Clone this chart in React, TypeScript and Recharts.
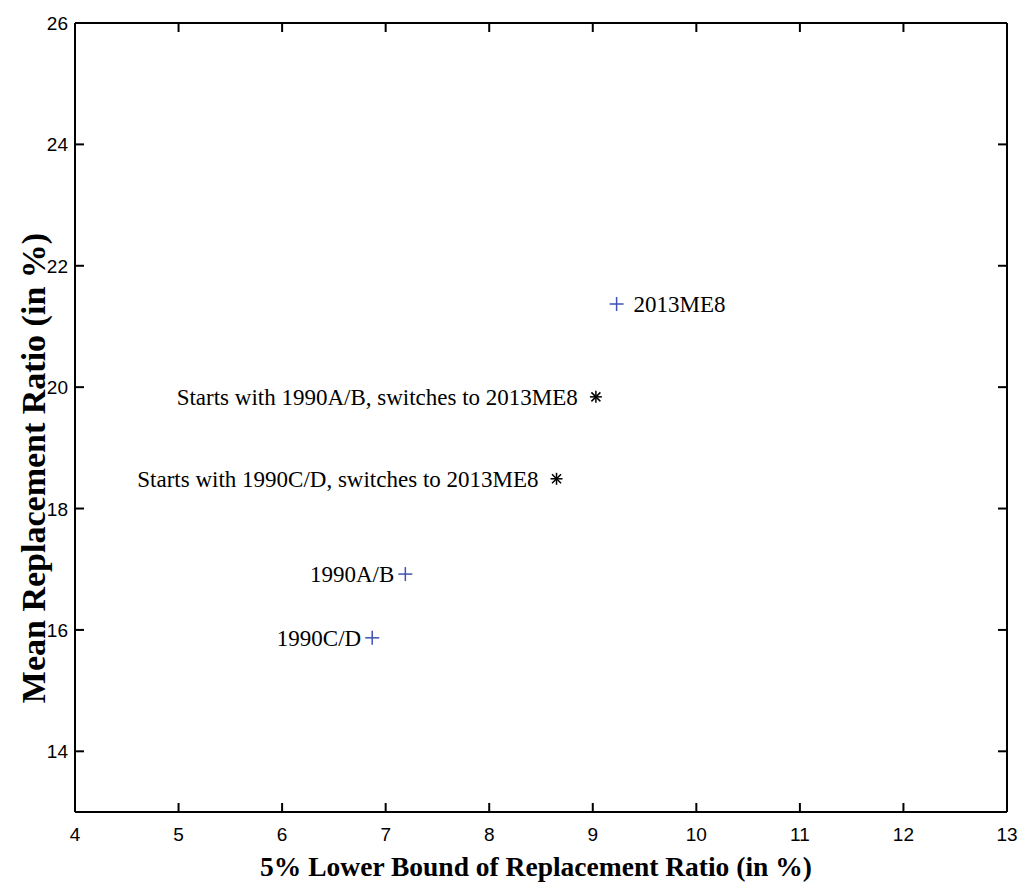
import React from "react";
import { ScatterChart, Scatter, XAxis, YAxis } from "recharts";

const xTicks = [4, 5, 6, 7, 8, 9, 10, 11, 12, 13];
const yTicks = [14, 16, 18, 20, 22, 24, 26];
const xDomain = [4, 13];
const yDomain = [13, 26];

const plusNames = ["2013ME8", "1990A/B", "1990C/D"];
const plusX = [9.23, 7.19, 6.87];
const plusY = [21.37, 16.92, 15.87];

const starNames = [
  "Starts with 1990A/B, switches to 2013ME8",
  "Starts with 1990C/D, switches to 2013ME8",
];
const starX = [9.03, 8.65];
const starY = [19.84, 18.49];

const xLabel = "5% Lower Bound of Replacement Ratio (in %)";
const yLabel = "Mean Replacement Ratio (in %)";

const rightLabeled = ["2013ME8"];

const plusData = plusNames.map((name, i) => ({ name, x: plusX[i], y: plusY[i] }));
const starData = starNames.map((name, i) => ({ name, x: starX[i], y: starY[i] }));

const SERIF = "'Liberation Serif', 'Times New Roman', serif";
const SANS = "'Liberation Sans', Arial, Helvetica, sans-serif";
const BLUE = "#3f51b5";
const TICK_LINE = { stroke: "#000", strokeWidth: 2 };
const AXIS_LINE = { stroke: "#000", strokeWidth: 2 };

const BottomTick = (props: any) => {
  const { x, y, payload } = props;
  return (
    <text x={x} y={y + 29} textAnchor="middle" fontFamily={SANS} fontSize={19} fill="#000">
      {payload.value}
    </text>
  );
};

const LeftTick = (props: any) => {
  const { x, y, payload } = props;
  return (
    <text x={x - 7} y={y + 7} textAnchor="end" fontFamily={SANS} fontSize={19} fill="#000">
      {payload.value}
    </text>
  );
};

const NoLabel = () => <g />;
const EmptyShape = () => <g />;

const PlusShape = (props: any) => {
  const { cx, cy, payload } = props;
  const right = rightLabeled.includes(payload.name);
  const s = 7;
  return (
    <g>
      <line x1={cx - s} y1={cy} x2={cx + s} y2={cy} stroke={BLUE} strokeWidth={1.5} />
      <line x1={cx} y1={cy - s} x2={cx} y2={cy + s} stroke={BLUE} strokeWidth={1.5} />
      <text
        x={right ? cx + 17 : cx - 11}
        y={cy + 8}
        textAnchor={right ? "start" : "end"}
        fontFamily={SERIF}
        fontSize={23}
        fill="#000"
      >
        {payload.name}
      </text>
    </g>
  );
};

const StarShape = (props: any) => {
  const { cx, cy, payload } = props;
  const s = 6;
  const d = 4.5;
  return (
    <g>
      <line x1={cx - s} y1={cy} x2={cx + s} y2={cy} stroke="#000" strokeWidth={1.5} />
      <line x1={cx} y1={cy - s} x2={cx} y2={cy + s} stroke="#000" strokeWidth={1.5} />
      <line x1={cx - d} y1={cy - d} x2={cx + d} y2={cy + d} stroke="#000" strokeWidth={1.5} />
      <line x1={cx - d} y1={cy + d} x2={cx + d} y2={cy - d} stroke="#000" strokeWidth={1.5} />
      <text x={cx - 18} y={cy + 8} textAnchor="end" fontFamily={SERIF} fontSize={23} fill="#000">
        {payload.name}
      </text>
    </g>
  );
};

export default function App() {
  return (
    <div style={{ position: "absolute", left: 0, top: 0, width: 1024, height: 882, background: "#fff" }}>
      <ScatterChart
        width={1024}
        height={882}
        margin={{ top: 22, right: 16, bottom: 30, left: 15 }}
      >
        <XAxis
          xAxisId="bottom"
          dataKey="x"
          type="number"
          domain={xDomain}
          ticks={xTicks}
          orientation="bottom"
          height={40}
          tickSize={-9}
          tickMargin={9}
          tickLine={TICK_LINE}
          axisLine={AXIS_LINE}
          tick={<BottomTick />}
          interval={0}
          allowDataOverflow
        />
        <XAxis
          xAxisId="top"
          dataKey="x"
          type="number"
          domain={xDomain}
          ticks={xTicks}
          orientation="top"
          height={1}
          tickSize={-9}
          tickMargin={0}
          tickLine={TICK_LINE}
          axisLine={AXIS_LINE}
          tick={<NoLabel />}
          interval={0}
          allowDataOverflow
        />
        <YAxis
          yAxisId="left"
          dataKey="y"
          type="number"
          domain={yDomain}
          ticks={yTicks}
          orientation="left"
          width={60}
          tickSize={-9}
          tickMargin={9}
          tickLine={TICK_LINE}
          axisLine={AXIS_LINE}
          tick={<LeftTick />}
          interval={0}
          allowDataOverflow
        />
        <YAxis
          yAxisId="right"
          dataKey="y"
          type="number"
          domain={yDomain}
          ticks={yTicks}
          orientation="right"
          width={1}
          tickSize={-9}
          tickMargin={0}
          tickLine={TICK_LINE}
          axisLine={AXIS_LINE}
          tick={<NoLabel />}
          interval={0}
          allowDataOverflow
        />
        <Scatter
          data={plusData}
          xAxisId="top"
          yAxisId="right"
          shape={<EmptyShape />}
          legendType="none"
          isAnimationActive={false}
        />
        <Scatter
          data={plusData}
          xAxisId="bottom"
          yAxisId="left"
          shape={<PlusShape />}
          isAnimationActive={false}
        />
        <Scatter
          data={starData}
          xAxisId="bottom"
          yAxisId="left"
          shape={<StarShape />}
          isAnimationActive={false}
        />
      </ScatterChart>
      <svg
        width={1024}
        height={882}
        style={{ position: "absolute", left: 0, top: 0, pointerEvents: "none" }}
      >
        <text
          x={536}
          y={876}
          textAnchor="middle"
          fontFamily={SERIF}
          fontWeight="bold"
          fontSize={27.5}
          fill="#000"
        >
          {xLabel}
        </text>
        <text
          x={0}
          y={0}
          transform="translate(45, 468) rotate(-90)"
          textAnchor="middle"
          fontFamily={SERIF}
          fontWeight="bold"
          fontSize={34}
          fill="#000"
        >
          {yLabel}
        </text>
      </svg>
    </div>
  );
}
